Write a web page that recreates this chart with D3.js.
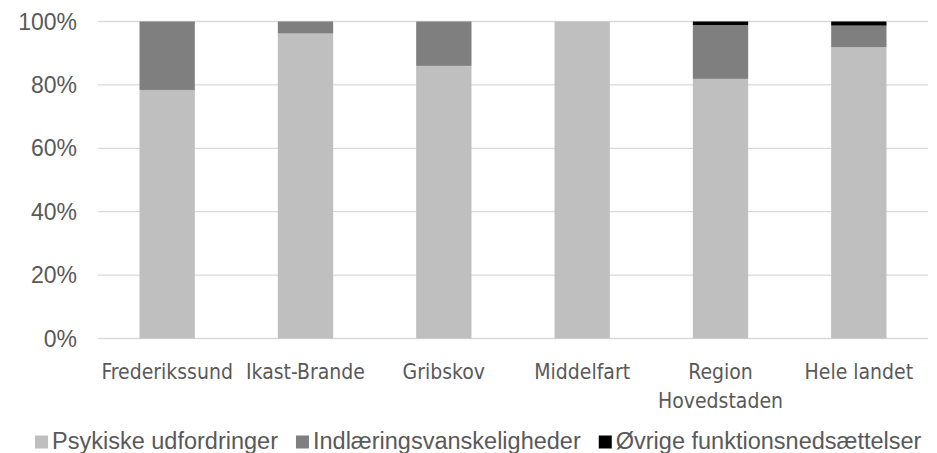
<!DOCTYPE html>
<html>
<head>
<meta charset="utf-8">
<script src="https://cdn.jsdelivr.net/npm/d3@7"></script>
<style>
  body { margin: 0; background: #fff; }
  svg { display: block; }
  text { font-family: "Liberation Sans", Arial, sans-serif; fill: #595959; }
</style>
</head>
<body>
<svg id="chart" width="937" height="453"></svg>
<script>
// Kommuner / kategorier
const categories = ['Frederikssund', 'Ikast-Brande', 'Gribskov', 'Middelfart', 'Region Hovedstaden', 'Hele landet'];
const seriesNames = ['Psykiske udfordringer', 'Indlæringsvanskeligheder', 'Øvrige funktionsnedsættelser'];
// andele i procent
const psykiske = [78.4, 96.2, 86.0, 100, 81.9, 91.9];
const indlaering = [21.6, 3.8, 14.0, 0, 17.0, 6.8];
const oevrige = [0, 0, 0, 0, 1.1, 1.3];
const yTicks = [0, 20, 40, 60, 80, 100];

const colors = ['#bfbfbf', '#7f7f7f', '#000000'];

const svg = d3.select('#chart');
const margin = { top: 21.5, right: 9, bottom: 114.5, left: 98 };
const W = 937, H = 453;
const innerW = W - margin.left - margin.right;
const innerH = H - margin.top - margin.bottom;

const g = svg.append('g').attr('transform', `translate(${margin.left},${margin.top})`);

const x = d3.scaleBand().domain(categories).range([0, innerW]).paddingInner(0.6).paddingOuter(0.3);
const y = d3.scaleLinear().domain([0, 100]).range([innerH, 0]);

// gitterlinjer
g.append('g')
  .selectAll('line')
  .data(yTicks)
  .join('line')
  .attr('x1', 0).attr('x2', innerW)
  .attr('y1', d => y(d)).attr('y2', d => y(d))
  .attr('stroke', '#d9d9d9').attr('stroke-width', 1.3);

// y-akse labels
g.append('g')
  .selectAll('text')
  .data(yTicks)
  .join('text')
  .attr('x', -21)
  .attr('y', d => y(d))
  .attr('dy', '0.35em')
  .attr('text-anchor', 'end')
  .style('font-size', '23px')
  .text(d => d + '%');

// stablede data
const rows = categories.map((c, i) => ({ cat: c, s0: psykiske[i], s1: indlaering[i], s2: oevrige[i] }));
const stack = d3.stack().keys(['s0', 's1', 's2']);
const stacked = stack(rows);

g.append('g')
  .selectAll('g')
  .data(stacked)
  .join('g')
  .attr('fill', (d, i) => colors[i])
  .selectAll('rect')
  .data(d => d)
  .join('rect')
  .attr('x', d => x(d.data.cat))
  .attr('width', x.bandwidth())
  .attr('y', d => y(d[1]))
  .attr('height', d => y(d[0]) - y(d[1]));

// x-akse labels (med ombrydning)
const xLab = g.append('g').attr('transform', `translate(0,${innerH})`);
categories.forEach(c => {
  const lines = c === 'Region Hovedstaden' ? ['Region', 'Hovedstaden'] : [c];
  const t = xLab.append('text')
    .attr('text-anchor', 'middle')
    .style('font-family', '"Liberation Sans Narrow", "DejaVu Sans Condensed", sans-serif')
    .style('font-size', '21px');
  lines.forEach((l, k) => {
    t.append('tspan')
      .attr('x', x(c) + x.bandwidth() / 2)
      .attr('y', 40 + k * 29)
      .text(l);
  });
});

// legende
const legend = svg.append('g').attr('transform', 'translate(35,442)');
let lx = 0;
seriesNames.forEach((name, i) => {
  const item = legend.append('g').attr('transform', `translate(${lx},0)`);
  item.append('rect')
    .attr('x', 0).attr('y', -6.5).attr('width', 13).attr('height', 13)
    .attr('fill', colors[i]);
  const t = item.append('text')
    .attr('x', 17).attr('y', 7)
    .style('font-size', '23.5px')
    .text(name);
  lx += 17 + t.node().getComputedTextLength() + 18;
});
</script>
</body>
</html>
